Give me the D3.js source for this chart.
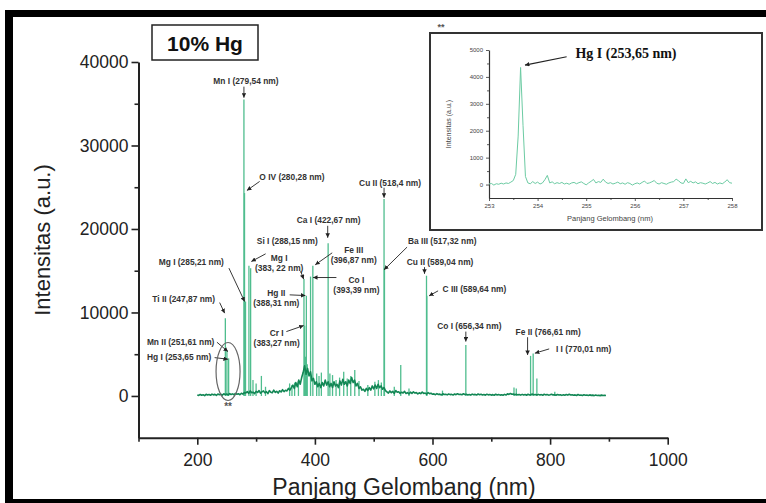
<!DOCTYPE html>
<html lang="en">
<head>
<meta charset="UTF-8">
<title>Spektrum 10% Hg</title>
<script src="https://cdn.jsdelivr.net/npm/d3@7/dist/d3.min.js"></script>
<style>
    body { margin: 0; background: #fff; }
    svg text { font-family: "Liberation Sans", Arial, sans-serif; }
</style>
</head>
<body>
<svg id="main" width="766" height="503"></svg>
<script>
    // continuous background of the spectrum, one point every 2.5 nm
    let baseNm = [
        200,202.5,205,207.5,210,212.5,215,217.5,220,222.5,225,227.5,230,232.5,235,237.5,240,242.5,245,247.5,
        250,252.5,255,257.5,260,262.5,265,267.5,270,272.5,275,277.5,280,282.5,285,287.5,290,292.5,295,297.5,
        300,302.5,305,307.5,310,312.5,315,317.5,320,322.5,325,327.5,330,332.5,335,337.5,340,342.5,345,347.5,
        350,352.5,355,357.5,360,362.5,365,367.5,370,372.5,375,377.5,380,382.5,385,387.5,390,392.5,395,397.5,
        400,402.5,405,407.5,410,412.5,415,417.5,420,422.5,425,427.5,430,432.5,435,437.5,440,442.5,445,447.5,
        450,452.5,455,457.5,460,462.5,465,467.5,470,472.5,475,477.5,480,482.5,485,487.5,490,492.5,495,497.5,
        500,502.5,505,507.5,510,512.5,515,517.5,520,522.5,525,527.5,530,532.5,535,537.5,540,542.5,545,547.5,
        550,552.5,555,557.5,560,562.5,565,567.5,570,572.5,575,577.5,580,582.5,585,587.5,590,592.5,595,597.5,
        600,602.5,605,607.5,610,612.5,615,617.5,620,622.5,625,627.5,630,632.5,635,637.5,640,642.5,645,647.5,
        650,652.5,655,657.5,660,662.5,665,667.5,670,672.5,675,677.5,680,682.5,685,687.5,690,692.5,695,697.5,
        700,702.5,705,707.5,710,712.5,715,717.5,720,722.5,725,727.5,730,732.5,735,737.5,740,742.5,745,747.5,
        750,752.5,755,757.5,760,762.5,765,767.5,770,772.5,775,777.5,780,782.5,785,787.5,790,792.5,795,797.5,
        800,802.5,805,807.5,810,812.5,815,817.5,820,822.5,825,827.5,830,832.5,835,837.5,840,842.5,845,847.5,
        850,852.5,855,857.5,860,862.5,865,867.5,870,872.5,875,877.5,880,882.5,885,887.5,890,892.5,895];
    let baseI = [
        120,60,180,90,150,40,200,110,170,80,220,130,190,70,240,150,210,100,260,160,
        230,120,280,170,250,140,300,200,260,150,320,220,400,
        350,520,300,600,380,450,280,550,420,650,330,480,600,370,520,290,640,450,380,700,
        420,560,340,620,480,750,520,680,600,900,700,1000,
        1300,900,1600,1100,1900,1400,2200,2800,3600,2600,3300,2400,2900,1800,2100,1400,1700,1100,1500,1000,
        1600,1200,1900,1300,1700,1100,1500,1000,1700,1200,1400,1000,1800,1300,2000,1400,1700,1200,1900,1500,
        2200,1600,1900,1200,1500,900,1100,700,
        800,550,900,650,1000,700,1200,850,1300,900,1400,1000,1200,800,1000,650,
        500,350,600,400,550,300,650,450,500,300,450,350,550,300,400,250,450,300,500,350,
        400,250,380,280,450,300,350,220,400,280,330,200,
        250,150,280,180,220,120,260,170,200,130,240,160,190,110,230,150,270,180,210,140,
        260,170,200,120,180,100,220,140,190,110,230,150,200,120,170,90,210,130,180,100,
        160,90,200,120,170,100,150,80,190,110,260,180,300,200,240,150,210,130,180,100,
        190,110,170,90,200,120,160,220,140,180,110,190,120,160,90,200,130,170,100,150,
        210,120,160,80,180,110,150,70,140,90,170,100,210,120,150,80,130,60,170,90,
        120,60,150,80,110,50,130,70,100,40,110,60,90,40,100,50,80,60];

    // emission lines (sticks)
    let lineNm = [247.7,250.4,253.3,279.3,280.3,282.0,287.8,290.7,294.7,300.0,309.0,316.0,
        357.0,361.0,365.5,372.0,381.4,382.6,384.0,385.5,387.0,392.6,396.5,403.0,407.0,411.0,
        422.5,425.5,430.0,436.0,442.0,449.0,455.0,461.0,467.8,475.0,490.0,502.0,508.0,513.0,
        517.6,518.3,535.0,546.0,560.0,589.8,590.4,617.0,656.7,738.6,742.5,766.8,771.2,777.5,808.0];
    let lineI = [9300,5500,4500,35500,24300,11300,15600,15300,1900,1500,2400,1100,
        1500,1300,1600,1800,14000,8400,4700,12000,3800,14300,15600,2700,2400,2800,
        18300,2700,2500,1900,2200,2900,2100,2400,3100,1800,1300,1700,1900,1600,
        23600,15300,1100,3700,900,14400,12000,640,6100,1000,900,4800,5100,2100,500];

    // labelled lines: text lines and where the arrow points (nm, intensity)
    let labelText = [["Mn I (279,54 nm)"], ["O IV (280,28 nm)"], ["Cu II (518,4 nm)"], ["Ca I (422,67 nm)"],
        ["Si I (288,15 nm)"], ["Mg I", "(383, 22 nm)"], ["Fe III", "(396,87 nm)"], ["Co I", "(393,39 nm)"],
        ["Hg II", "(388,31 nm)"], ["Cr I", "(383,27 nm)"], ["Mg I (285,21 nm)"], ["Ti II (247,87 nm)"],
        ["Mn II (251,61 nm)"], ["Hg I (253,65 nm)"], ["Ba III (517,32 nm)"], ["Cu II (589,04 nm)"],
        ["C III (589,64 nm)"], ["Co I (656,34 nm)"], ["Fe II (766,61 nm)"], ["I I (770,01 nm)"]];
    let labelNm = [279.3,284.4,517.6,421.8,291.9,380.9,400.5,396.8,383.8,380.9,
        280.5,246.5,252.1,252.1,517.6,586.4,594.2,656.7,761.7,774.1];
    let labelI = [35731,24616,23741,18945,16103,13993,15707,14185,12026,8429,
        11307,9916,5312,4400,15108,14628,11990,6511,4916,5120];
    // layout of each label in pixels relative to the arrow tip: text dx, dy, tail dx, dy
    let labelLayout = [[2,-16.5,0,-11],[45,-13,12.7,-9],[6,-14.7,0,-10],[1,-18,0,-12],
        [36,-20.7,14.3,-7.7],[-24.5,-21.6,-3,-8],[38.5,-15,17,-12],[43.4,2.3,23.4,0],
        [-29,-3,-15.7,-0.7],[-27,7,-17.3,6],[-53.3,-39.7,-15.7,-33.4],[-41,-14.6,-5,-10.6],
        [-47.3,-10,-11,-9.4],[-48.8,-2.6,-13.3,-1.6],[58.2,-29.3,23,-22.7],[15.6,-12,0,-6.7],
        [45.4,-7,9,-5],[3.5,-15.7,0,-10],[20.6,-22.7,0,-17.7],[48.7,-4.3,14.3,-4.3]];

    // inset: Hg I line region
    let insetNm = [253.00,253.05,253.10,253.15,253.20,253.25,253.30,253.35,253.40,253.45,
        253.50,253.55,253.60,253.65,253.70,253.75,253.80,253.85,253.90,253.95,
        254.00,254.05,254.10,254.15,254.20,254.25,254.30,254.35,254.40,254.45,
        254.50,254.55,254.60,254.65,254.70,254.75,254.80,254.85,254.90,254.95,
        255.00,255.05,255.10,255.15,255.20,255.25,255.30,255.35,255.40,255.45,
        255.50,255.55,255.60,255.65,255.70,255.75,255.80,255.85,255.90,255.95,
        256.00,256.05,256.10,256.15,256.20,256.25,256.30,256.35,256.40,256.45,
        256.50,256.55,256.60,256.65,256.70,256.75,256.80,256.85,256.90,256.95,
        257.00,257.05,257.10,257.15,257.20,257.25,257.30,257.35,257.40,257.45,
        257.50,257.55,257.60,257.65,257.70,257.75,257.80,257.85,257.90,257.95,258.00];
    let insetI = [20,40,-20,30,10,50,20,60,40,90,
        150,380,1800,4350,2200,300,60,30,110,40,
        90,20,60,180,340,60,100,30,70,40,
        80,20,50,10,60,80,30,70,100,40,
        -10,60,120,190,60,110,80,200,90,40,
        70,20,50,90,30,60,10,70,40,-20,
        30,60,20,80,130,40,60,100,150,50,
        20,70,40,10,60,90,110,200,140,60,
        40,210,70,120,60,100,30,70,50,20,
        60,110,40,80,20,60,30,90,180,70,50];

    let xTicks = [200, 400, 600, 800, 1000];
    let xMinor = [100, 300, 500, 700, 900];
    let yTicks = [0, 10000, 20000, 30000, 40000];
    let yMinor = [5000, 15000, 25000, 35000];
    let insetXTicks = [253, 254, 255, 256, 257, 258];
    let insetXMinor = [253.5, 254.5, 255.5, 256.5, 257.5];
    let insetYTicks = [0, 1000, 2000, 3000, 4000, 5000];
    let insetYMinor = [500, 1500, 2500, 3500, 4500];

    let svg = d3.select('svg#main');
    let ink = '#222';
    let darkGreen = '#138755';
    let lightGreen = '#4fbd8e';

    // outer frame
    svg.append('rect').attr('x', 5).attr('y', 10).attr('width', 8).attr('height', 493).attr('fill', '#000');
    svg.append('rect').attr('x', 5).attr('y', 10).attr('width', 761).attr('height', 7).attr('fill', '#000');
    svg.append('rect').attr('x', 5).attr('y', 499).attr('width', 761).attr('height', 4).attr('fill', '#000');

    let x = d3.scaleLinear().domain([100, 1000]).range([138.5, 667.7]);
    let y = d3.scaleLinear().domain([-5000, 40000]).range([437.7, 62]);

    svg.append('defs').append('marker')
        .attr('id', 'head')
        .attr('viewBox', '0 0 6 6')
        .attr('refX', 6).attr('refY', 3)
        .attr('markerWidth', 4.5).attr('markerHeight', 4.5)
        .attr('markerUnits', 'userSpaceOnUse')
        .attr('orient', 'auto')
        .append('path').attr('d', 'M0,0L6,3L0,6Z').attr('fill', ink);

    // sticks
    svg.append('g').selectAll('line').data(lineNm).enter().append('line')
        .attr('x1', d => x(d)).attr('x2', d => x(d))
        .attr('y1', y(0))
        .attr('y2', (d, i) => y(lineI[i]))
        .attr('stroke', lightGreen)
        .attr('stroke-width', 1.3);

    // background spectrum
    let base = d3.line()
        .x((d, i) => x(baseNm[i]))
        .y(d => y(d));
    svg.append('path')
        .datum(baseI)
        .attr('d', base)
        .attr('fill', 'none')
        .attr('stroke', darkGreen)
        .attr('stroke-width', 1.6)
        .attr('stroke-linejoin', 'round');

    // axes
    function styleAxis(g) {
        g.select('.domain').attr('stroke', ink).attr('stroke-width', 2);
        g.selectAll('.tick line').attr('stroke', ink).attr('stroke-width', 1.6);
        g.selectAll('.tick text').attr('fill', ink).style('font-size', '17.5px')
            .style('font-family', '"Liberation Sans", Arial, sans-serif');
    }
    svg.append('g')
        .attr('transform', 'translate(0,' + y(-5000) + ')')
        .call(d3.axisBottom(x).tickValues(xTicks).tickSize(7).tickSizeOuter(0).tickPadding(9).tickFormat(d3.format('d')))
        .call(styleAxis);
    svg.append('g')
        .attr('transform', 'translate(0,' + y(-5000) + ')')
        .call(d3.axisBottom(x).tickValues(xMinor).tickSize(4).tickFormat(''))
        .call(g => g.select('.domain').remove())
        .call(styleAxis);
    svg.append('g')
        .attr('transform', 'translate(' + x(100) + ',0)')
        .call(d3.axisLeft(y).tickValues(yTicks).tickSize(7).tickSizeOuter(0).tickPadding(3).tickFormat(d3.format('d')))
        .call(styleAxis);
    svg.append('g')
        .attr('transform', 'translate(' + x(100) + ',0)')
        .call(d3.axisLeft(y).tickValues(yMinor).tickSize(4).tickFormat(''))
        .call(g => g.select('.domain').remove())
        .call(styleAxis);

    svg.append('text')
        .attr('x', 404).attr('y', 487)
        .attr('text-anchor', 'middle').attr('dominant-baseline', 'central')
        .style('font-size', '23px').attr('fill', ink)
        .text('Panjang Gelombang (nm)');
    svg.append('text')
        .attr('transform', 'translate(42,240) rotate(-90)')
        .attr('text-anchor', 'middle').attr('dominant-baseline', 'central')
        .style('font-size', '22px').attr('fill', ink)
        .text('Intensitas (a.u.)');

    // sample tag
    svg.append('rect').attr('x', 152).attr('y', 25).attr('width', 106).attr('height', 35)
        .attr('fill', '#fff').attr('stroke', ink).attr('stroke-width', 1.5);
    svg.append('text').attr('x', 205).attr('y', 43)
        .attr('text-anchor', 'middle').attr('dominant-baseline', 'central')
        .style('font-size', '21px').style('font-weight', 'bold').attr('fill', '#111')
        .text('10% Hg');

    // line labels
    let ann = svg.append('g');
    labelText.forEach(function (lines, i) {
        let tx = x(labelNm[i]), ty = y(labelI[i]);
        let L = labelLayout[i];
        ann.append('line')
            .attr('x1', tx + L[2]).attr('y1', ty + L[3])
            .attr('x2', tx).attr('y2', ty)
            .attr('stroke', ink).attr('stroke-width', 0.9)
            .attr('marker-end', 'url(#head)');
        lines.forEach(function (s, j) {
            ann.append('text')
                .attr('x', tx + L[0]).attr('y', ty + L[1] + j * 10.5)
                .attr('text-anchor', 'middle').attr('dominant-baseline', 'central')
                .style('font-size', '8.4px').style('font-weight', 'bold').attr('fill', '#333')
                .text(s);
        });
    });

    // mark around Hg I
    svg.append('ellipse')
        .attr('cx', x(252.3)).attr('cy', y(2930))
        .attr('rx', 12).attr('ry', 29)
        .attr('fill', 'none').attr('stroke', '#666').attr('stroke-width', 1.2);
    svg.append('text').attr('x', x(252.3)).attr('y', y(2930) + 35)
        .attr('text-anchor', 'middle').attr('dominant-baseline', 'central')
        .style('font-size', '10px').style('font-weight', 'bold').attr('fill', '#555')
        .text('**');

    // inset
    let inset = svg.append('g');
    inset.append('rect').attr('x', 430).attr('y', 33).attr('width', 332).attr('height', 197)
        .attr('fill', '#fff').attr('stroke', '#333').attr('stroke-width', 2);
    inset.append('text').attr('x', 441).attr('y', 27)
        .attr('text-anchor', 'middle').attr('dominant-baseline', 'central')
        .style('font-size', '9px').style('font-weight', 'bold').attr('fill', '#555')
        .text('**');

    let ix = d3.scaleLinear().domain([253, 258]).range([489, 732]);
    let iy = d3.scaleLinear().domain([-500, 5000]).range([198, 50]);

    function styleInset(g) {
        g.select('.domain').attr('stroke', '#333').attr('stroke-width', 1.2);
        g.selectAll('.tick line').attr('stroke', '#333').attr('stroke-width', 0.8);
        g.selectAll('.tick text').attr('fill', '#444').style('font-size', '6px')
            .style('font-family', '"Liberation Sans", Arial, sans-serif');
    }
    inset.append('g').attr('transform', 'translate(0,198)')
        .call(d3.axisBottom(ix).tickValues(insetXTicks).tickSize(3).tickSizeOuter(0).tickPadding(3).tickFormat(d3.format('d')))
        .call(styleInset);
    inset.append('g').attr('transform', 'translate(0,198)')
        .call(d3.axisBottom(ix).tickValues(insetXMinor).tickSize(2).tickFormat(''))
        .call(g => g.select('.domain').remove())
        .call(styleInset);
    inset.append('g').attr('transform', 'translate(489,0)')
        .call(d3.axisLeft(iy).tickValues(insetYTicks).tickSize(3).tickSizeOuter(0).tickPadding(3).tickFormat(d3.format('d')))
        .call(styleInset);
    inset.append('g').attr('transform', 'translate(489,0)')
        .call(d3.axisLeft(iy).tickValues(insetYMinor).tickSize(2).tickFormat(''))
        .call(g => g.select('.domain').remove())
        .call(styleInset);

    inset.append('path')
        .datum(insetI)
        .attr('d', d3.line().x((d, i) => ix(insetNm[i])).y(d => iy(d)))
        .attr('fill', 'none')
        .attr('stroke', '#6ccba3')
        .attr('stroke-width', 1);

    inset.append('text').attr('x', 610).attr('y', 218)
        .attr('text-anchor', 'middle').attr('dominant-baseline', 'central')
        .style('font-size', '7.5px').attr('fill', '#444')
        .text('Panjang Gelombang (nm)');
    inset.append('text').attr('transform', 'translate(448,124) rotate(-90)')
        .attr('text-anchor', 'middle').attr('dominant-baseline', 'central')
        .style('font-size', '7px').attr('fill', '#444')
        .text('Intensitas (a.u.)');

    let hgX = ix(253.74), hgY = iy(4440);
    inset.append('line')
        .attr('x1', hgX + 41.7).attr('y1', hgY - 8.3)
        .attr('x2', hgX).attr('y2', hgY)
        .attr('stroke', ink).attr('stroke-width', 1.2)
        .attr('marker-end', 'url(#head)');
    inset.append('text').attr('x', hgX + 101).attr('y', hgY - 11.7)
        .attr('text-anchor', 'middle').attr('dominant-baseline', 'central')
        .style('font-family', '"Liberation Serif", "Times New Roman", serif')
        .style('font-size', '14px').style('font-weight', 'bold').attr('fill', '#111')
        .text('Hg I (253,65 nm)');
</script>
</body>
</html>
